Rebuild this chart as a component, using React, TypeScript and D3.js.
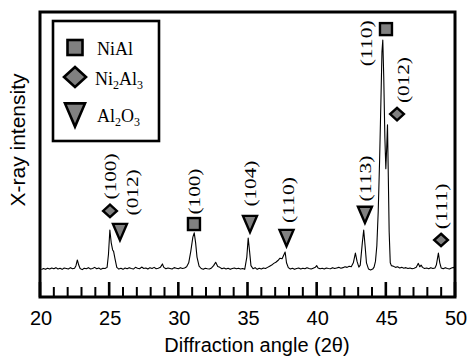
import React, { useEffect, useRef } from 'react';
import * as d3 from 'd3';

// x axis (2-theta, degrees)
const majorTicks = [20, 25, 30, 35, 40, 45, 50];
const minorTicks = [21, 22, 23, 24, 26, 27, 28, 29, 31, 32, 33, 34, 36, 37, 38, 39, 41, 42, 43, 44, 46, 47, 48, 49];

// measured pattern, [angle, intensity (a.u.)]
const spectrum: [number, number][] = [
  [20.1, 96], [20.25, 100], [20.4, 97], [20.55, 101], [20.7, 98], [20.85, 102], [21.0, 99], [21.15, 103],
  [21.3, 98], [21.45, 101], [21.6, 97], [21.75, 102], [21.9, 100], [22.05, 98], [22.2, 103], [22.35, 99],
  [22.5, 101], [22.6, 110], [22.7, 130], [22.8, 112], [22.9, 100], [23.05, 96], [23.2, 101], [23.35, 99],
  [23.5, 103], [23.65, 98], [23.8, 100], [23.95, 104], [24.1, 99], [24.25, 102], [24.4, 97], [24.55, 101],
  [24.7, 100], [24.85, 104], [24.95, 150], [25.05, 235], [25.15, 190], [25.25, 165], [25.32, 160], [25.42, 135],
  [25.55, 104], [25.7, 98], [25.85, 101], [26.0, 97], [26.15, 102], [26.3, 99], [26.45, 103], [26.6, 100],
  [26.75, 98], [26.9, 104], [27.05, 101], [27.2, 99], [27.35, 105], [27.5, 100], [27.65, 102], [27.8, 98],
  [27.95, 103], [28.1, 100], [28.25, 104], [28.4, 99], [28.55, 101], [28.7, 104], [28.85, 116], [28.95, 104],
  [29.1, 99], [29.25, 102], [29.4, 100], [29.55, 98], [29.7, 103], [29.85, 101], [30.0, 99], [30.15, 103],
  [30.3, 100], [30.45, 102], [30.6, 106], [30.75, 120], [30.9, 160], [31.05, 210], [31.15, 225], [31.25, 190],
  [31.35, 140], [31.5, 108], [31.65, 100], [31.8, 97], [31.95, 101], [32.1, 99], [32.25, 98], [32.4, 102],
  [32.55, 110], [32.7, 122], [32.85, 107], [33.0, 104], [33.15, 99], [33.3, 102], [33.45, 98], [33.6, 101],
  [33.75, 97], [33.9, 100], [34.05, 102], [34.2, 99], [34.35, 101], [34.5, 98], [34.65, 100], [34.8, 97],
  [34.95, 140], [35.05, 207], [35.15, 160], [35.25, 110], [35.4, 99], [35.55, 103], [35.7, 97], [35.85, 101],
  [36.0, 98], [36.15, 102], [36.3, 100], [36.45, 104], [36.6, 108], [36.75, 112], [36.9, 118], [37.05, 122],
  [37.2, 128], [37.35, 136], [37.5, 134], [37.6, 145], [37.72, 158], [37.82, 120], [37.95, 103], [38.1, 98],
  [38.25, 101], [38.4, 97], [38.55, 100], [38.7, 102], [38.85, 98], [39.0, 101], [39.15, 99], [39.3, 103],
  [39.45, 100], [39.6, 98], [39.75, 101], [39.9, 104], [40.0, 110], [40.1, 102], [40.25, 99], [40.4, 101],
  [40.55, 98], [40.7, 102], [40.85, 100], [41.0, 99], [41.15, 103], [41.3, 100], [41.45, 102], [41.6, 104],
  [41.75, 101], [41.9, 103], [42.05, 106], [42.2, 104], [42.35, 108], [42.5, 106], [42.65, 120], [42.8, 154],
  [42.92, 125], [43.05, 105], [43.15, 112], [43.3, 190], [43.4, 235], [43.5, 180], [43.6, 120], [43.75, 98],
  [43.9, 95], [44.05, 98], [44.15, 105], [44.25, 125], [44.35, 180], [44.45, 300], [44.55, 480], [44.65, 700],
  [44.72, 860], [44.78, 902], [44.85, 770], [44.93, 560], [45.0, 450], [45.06, 520], [45.12, 604], [45.18, 420],
  [45.24, 230], [45.32, 120], [45.4, 110], [45.55, 108], [45.7, 104], [45.85, 106], [46.0, 102], [46.15, 104],
  [46.3, 101], [46.45, 103], [46.6, 100], [46.75, 102], [46.9, 99], [47.05, 101], [47.2, 104], [47.35, 118],
  [47.45, 106], [47.55, 112], [47.65, 104], [47.8, 100], [47.95, 102], [48.1, 99], [48.25, 103], [48.4, 100],
  [48.55, 102], [48.65, 112], [48.8, 154], [48.9, 120], [49.0, 102], [49.15, 99], [49.3, 103], [49.45, 100],
  [49.6, 98], [49.75, 102], [49.9, 104], [50.0, 101]
];

// phase markers above peaks
const markerPhase = ['Ni2Al3', 'Al2O3', 'NiAl', 'Al2O3', 'Al2O3', 'Al2O3', 'NiAl', 'Ni2Al3', 'Ni2Al3'];
const markerAngle = [25.06, 25.78, 31.13, 35.18, 37.82, 43.49, 45.01, 45.81, 48.99];
const markerLevel = [302, 228, 256, 256, 207, 288, 940, 642, 200];

// Miller index labels
const hklText = ['(100)', '(012)', '(100)', '(104)', '(110)', '(113)', '(110)', '(012)', '(111)'];
const hklAngle = [25.12, 26.72, 31.17, 35.22, 37.93, 43.53, 43.6, 46.31, 49.06];
const hklLevel = [423, 367, 370, 398, 340, 416, 890, 761, 318];

const phases = ['NiAl', 'Ni2Al3', 'Al2O3'];
const phaseShape: { [key: string]: string } = { NiAl: 'square', Ni2Al3: 'diamond', Al2O3: 'triangle' };

const W = 470;
const H = 357;
const FILL = '#808080';

const drawMarker = (g: any, shape: string, cx: number, cy: number, s: number, sw: number) => {
  if (shape === 'square') {
    g.append('rect')
      .attr('x', cx - s / 2).attr('y', cy - s / 2)
      .attr('width', s).attr('height', s)
      .attr('fill', FILL).attr('stroke', '#000').attr('stroke-width', sw);
  } else if (shape === 'diamond') {
    const w = s * 0.55, h = s * 0.5;
    g.append('path')
      .attr('d', `M${cx},${cy - h}L${cx + w},${cy}L${cx},${cy + h}L${cx - w},${cy}Z`)
      .attr('fill', FILL).attr('stroke', '#000').attr('stroke-width', sw)
      .attr('stroke-linejoin', 'miter');
  } else {
    const w = s * 0.5, h = s * 0.58;
    g.append('path')
      .attr('d', `M${cx - w},${cy - h}L${cx + w},${cy - h}L${cx},${cy + h}Z`)
      .attr('fill', FILL).attr('stroke', '#000').attr('stroke-width', sw)
      .attr('stroke-linejoin', 'miter');
  }
};

const App: React.FC = () => {
  const svgRef = useRef<SVGSVGElement>(null);

  useEffect(() => {
    if (!svgRef.current) return;
    const svg = d3.select(svgRef.current);
    svg.selectAll('*').remove();

    const plot = { left: 40, right: 455, top: 12, bottom: 297 };

    const x = d3.scaleLinear().domain([20, 50]).range([plot.left, plot.right]);
    const y = d3.scaleLinear().domain([0, 1000]).range([plot.bottom, plot.top]);

    const serif = '"Liberation Serif", "Times New Roman", serif';
    const sans = '"Liberation Sans", Arial, sans-serif';

    // ticks inside, pointing up
    const ticks = svg.append('g');
    minorTicks.forEach(t => {
      ticks.append('line')
        .attr('x1', x(t)).attr('x2', x(t))
        .attr('y1', plot.bottom).attr('y2', plot.bottom - 10)
        .attr('stroke', '#000').attr('stroke-width', 2);
    });
    majorTicks.forEach(t => {
      ticks.append('line')
        .attr('x1', x(t)).attr('x2', x(t))
        .attr('y1', plot.bottom).attr('y2', plot.bottom - 15)
        .attr('stroke', '#000').attr('stroke-width', 2.6);
      svg.append('text')
        .attr('x', x(t) + 1)
        .attr('y', 325)
        .attr('text-anchor', 'middle')
        .style('font-family', sans)
        .style('font-size', '20px')
        .text(t);
    });

    // pattern
    const line = d3.line<[number, number]>()
      .x(d => x(d[0]))
      .y(d => y(d[1]));
    svg.append('path')
      .datum(spectrum)
      .attr('d', line)
      .attr('fill', 'none')
      .attr('stroke', '#000')
      .attr('stroke-width', 1.1)
      .attr('stroke-linejoin', 'round');

    // frame
    svg.append('rect')
      .attr('x', plot.left).attr('y', plot.top)
      .attr('width', plot.right - plot.left).attr('height', plot.bottom - plot.top)
      .attr('fill', 'none').attr('stroke', '#000').attr('stroke-width', 3);

    // peak markers
    const markerSize: { [key: string]: number } = { square: 12, diamond: 12.5, triangle: 14 };
    const mk = svg.append('g');
    markerAngle.forEach((a, i) => {
      const shape = phaseShape[markerPhase[i]];
      drawMarker(mk, shape, x(a), y(markerLevel[i]), markerSize[shape], 2.4);
    });

    // hkl labels
    hklText.forEach((t, i) => {
      svg.append('text')
        .attr('transform', `translate(${x(hklAngle[i])},${y(hklLevel[i])}) rotate(-90)`)
        .attr('text-anchor', 'middle')
        .attr('dominant-baseline', 'central')
        .attr('textLength', 46)
        .attr('lengthAdjust', 'spacingAndGlyphs')
        .style('font-family', serif)
        .style('font-size', '17px')
        .text(t);
    });

    // legend
    const lg = svg.append('g');
    lg.append('rect')
      .attr('x', 53).attr('y', 21).attr('width', 106).attr('height', 120)
      .attr('fill', '#fff').attr('stroke', '#000').attr('stroke-width', 2.6);
    const rowY = [47.5, 77, 115];
    const rowSize = [15, 20, 20];
    phases.forEach((p, i) => {
      drawMarker(lg, phaseShape[p], 75, rowY[i], rowSize[i], 2.6);
    });
    const t1 = lg.append('text').attr('x', 97).attr('y', 55)
      .style('font-family', serif).style('font-size', '18px');
    t1.append('tspan').text('NiAl');
    const t2 = lg.append('text').attr('x', 95).attr('y', 85)
      .style('font-family', serif).style('font-size', '18px');
    t2.append('tspan').text('Ni');
    t2.append('tspan').attr('dy', 4).style('font-size', '12px').text('2');
    t2.append('tspan').attr('dy', -4).text('Al');
    t2.append('tspan').attr('dy', 4).style('font-size', '12px').text('3');
    const t3 = lg.append('text').attr('x', 97).attr('y', 122)
      .style('font-family', serif).style('font-size', '18px');
    t3.append('tspan').text('Al');
    t3.append('tspan').attr('dy', 4).style('font-size', '12px').text('2');
    t3.append('tspan').attr('dy', -4).text('O');
    t3.append('tspan').attr('dy', 4).style('font-size', '12px').text('3');

    // axis titles
    svg.append('text')
      .attr('x', 257).attr('y', 352)
      .attr('text-anchor', 'middle')
      .style('font-family', sans)
      .style('font-size', '20px')
      .text('Diffraction angle (2θ)');
    svg.append('text')
      .attr('transform', 'translate(25,140) rotate(-90)')
      .attr('text-anchor', 'middle')
      .style('font-family', sans)
      .style('font-size', '21px')
      .text('X-ray intensity');
  }, []);

  return (
    <svg
      ref={svgRef}
      width={W}
      height={H}
      style={{ position: 'absolute', left: 0, top: 0, background: '#fff' }}
    />
  );
};

export default App;
